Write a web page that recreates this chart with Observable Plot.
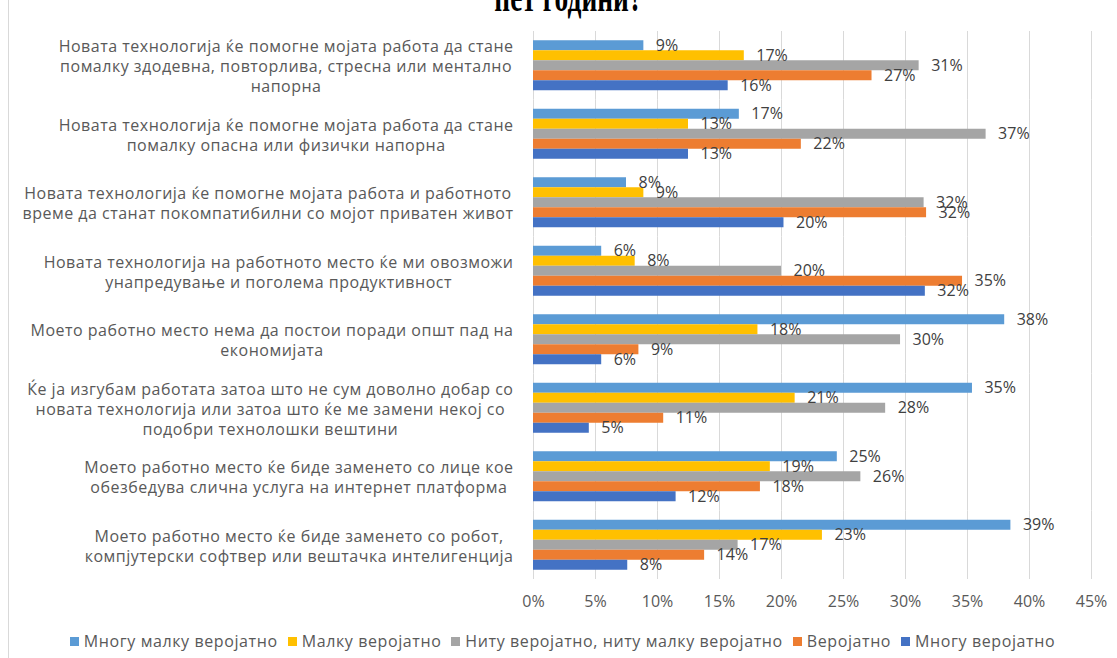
<!DOCTYPE html>
<html><head><meta charset="utf-8">
<script src="https://cdn.jsdelivr.net/npm/d3@7"></script>
<script src="https://cdn.jsdelivr.net/npm/@observablehq/plot@0.6"></script>
<style>
body{margin:0;background:#fff;}
#wrap{position:relative;width:1117px;height:658px;overflow:hidden;font-family:"Open Sans",sans-serif;}
#border{position:absolute;left:8px;top:0;width:1px;height:658px;background:#d9d9d9;}
#title{position:absolute;left:10px;width:1117px;top:-7px;height:25px;line-height:25px;text-align:center;font-weight:bold;font-size:25px;font-family:"Liberation Serif","Times New Roman",serif;color:#000;transform:scale(1.1,1.7);transform-origin:50% 100%;}
#chart{position:absolute;left:0;top:0;}
#legend{position:absolute;top:630px;left:4px;width:1117px;display:flex;justify-content:center;gap:10px;font-size:16px;letter-spacing:0.6px;color:#595959;line-height:22px;}
#legend .it{display:flex;align-items:center;gap:5px;white-space:nowrap;}
#legend .sw{width:9px;height:9px;display:inline-block;}
</style></head>
<body>
<div id="wrap">
  <div id="border"></div>
  <div id="chart"></div>
  <div id="title">пет години?</div>
  <div id="legend"></div>
</div>
<script>
const categories = [
  "Новата технологија ќе помогне мојата работа да стане\nпомалку здодевна, повторлива, стресна или ментално\nнапорна",
  "Новата технологија ќе помогне мојата работа да стане\nпомалку опасна или физички напорна",
  "Новата технологија ќе помогне мојата работа и работното\nвреме да станат покомпатибилни со мојот приватен живот",
  "Новата технологија на работното место ќе ми овозможи\nунапредување и поголема продуктивност",
  "Моето работно место нема да постои поради општ пад на\nекономијата",
  "Ќе ја изгубам работата затоа што не сум доволно добар со\nновата технологија или затоа што ќе ме замени некој со\nподобри технолошки вештини",
  "Моето работно место ќе биде заменето со лице кое\nобезбедува слична услуга на интернет платформа",
  "Моето работно место ќе биде заменето со робот,\nкомпјутерски софтвер или вештачка интелигенција"
];
const series = [
  "Многу малку веројатно",
  "Малку веројатно",
  "Ниту веројатно, ниту малку веројатно",
  "Веројатно",
  "Многу веројатно"
];
const colors = ["#5B9BD5", "#FFC000", "#A5A5A5", "#ED7D31", "#4472C4"];
const veryUnlikely = [8.9, 16.6, 7.5, 5.5, 38.0, 35.4, 24.5, 38.5];
const unlikely     = [17.0, 12.5, 8.9, 8.2, 18.1, 21.1, 19.1, 23.3];
const neither      = [31.1, 36.5, 31.5, 20.0, 29.6, 28.4, 26.4, 16.5];
const likely       = [27.3, 21.6, 31.7, 34.6, 8.5, 10.5, 18.3, 13.8];
const veryLikely   = [15.7, 12.5, 20.2, 31.6, 5.5, 4.5, 11.5, 7.6];
const xTicks = [0, 5, 10, 15, 20, 25, 30, 35, 40, 45];

const seriesValues = [veryUnlikely, unlikely, neither, likely, veryLikely];
const rows = [];
categories.forEach((c, i) => series.forEach((s, j) => rows.push({category: c, series: s, value: seriesValues[j][i]})));

const chart = Plot.plot({
  width: 1117, height: 620,
  marginTop: 31, marginBottom: 41, marginLeft: 533, marginRight: 26,
  style: {fontFamily: "'Open Sans', sans-serif", fontSize: "16px", color: "#595959", background: "transparent"},
  x: {domain: [0, 45]},
  fy: {domain: categories, padding: 0, round: false},
  y: {domain: series, paddingInner: 0, paddingOuter: 0.925, round: false, axis: null},
  color: {domain: series, range: colors},
  marks: [
    Plot.gridX(xTicks, {stroke: "#d9d9d9", strokeOpacity: 1, strokeWidth: 1}),
    Plot.barX(rows, {fy: "category", y: "series", x: "value", fill: "series"}),
    Plot.text(rows, {fy: "category", y: "series", x: "value", text: d => Math.round(d.value) + "%", dx: 12, textAnchor: "start", fill: "#404040", fontSize: 16}),
    Plot.axisX(xTicks, {tickSize: 0, tickPadding: 16, label: null, tickFormat: d => d + "%", fontSize: 16, fill: "#595959"}),
    Plot.axisFy({anchor: "left", tickSize: 0, tickPadding: 20, label: null, fontSize: 16, lineHeight: 1.25, fill: "#595959"})
  ]
});
document.getElementById("chart").appendChild(chart);

// center lines within a right-aligned label block (like the original)
chart.querySelectorAll('g[aria-label="fy-axis tick label"] text').forEach(t => {
  t.style.letterSpacing = "0.5px";
  const spans = Array.from(t.querySelectorAll("tspan"));
  if (!spans.length) return;
  const w = Math.max(...spans.map(s => s.getComputedTextLength()));
  t.setAttribute("text-anchor", "middle");
  spans.forEach(s => s.setAttribute("x", -w / 2));
});

const legend = document.getElementById("legend");
series.forEach((s, i) => {
  const it = document.createElement("div");
  it.className = "it";
  const sw = document.createElement("span");
  sw.className = "sw";
  sw.style.background = colors[i];
  const tx = document.createElement("span");
  tx.textContent = s;
  it.appendChild(sw); it.appendChild(tx);
  legend.appendChild(it);
});
</script>
</body></html>
